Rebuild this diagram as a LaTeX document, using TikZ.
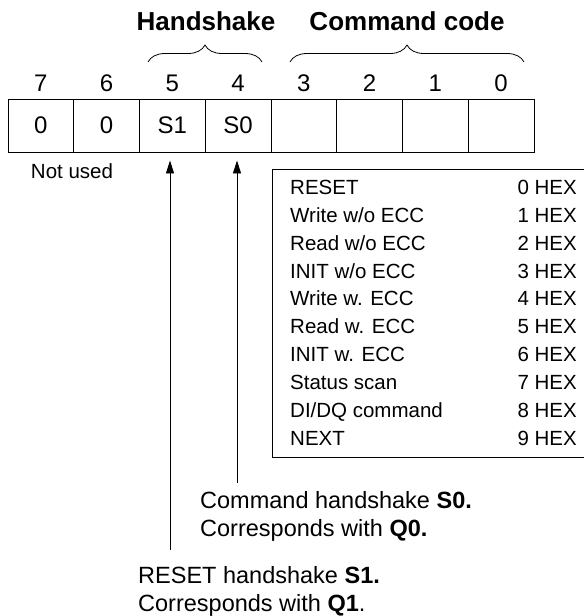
\documentclass[tikz,border=0pt]{standalone}
\usepackage{fontspec}
\setmainfont{Liberation Sans}
\usetikzlibrary{arrows.meta,decorations.pathreplacing}

\begin{document}
\begin{tikzpicture}[x=1pt, y=-1pt,
	bitcell/.style={draw, line width=0.9pt, minimum width=65.75pt, minimum height=53pt, inner sep=0pt, font=\fontsize{24}{28}\selectfont},
	bitnum/.style={inner sep=0pt, anchor=base, font=\fontsize{24}{28}\selectfont},
	heading/.style={inner sep=0pt, anchor=base, font=\bfseries\fontsize{26}{30}\selectfont},
	bitbrace/.style={decorate, decoration={brace, amplitude=17pt, aspect=0.5}, line width=0.8pt},
	pointer/.style={-{Triangle[length=13pt, width=8pt]}, line width=0.9pt},
	listbox/.style={line width=0.9pt},
	entry/.style={inner sep=0pt, anchor=base west, font=\fontsize{20.5}{28}\selectfont},
	hexval/.style={inner sep=0pt, anchor=base east, font=\fontsize{20.5}{28}\selectfont},
	caption/.style={inner sep=0pt, anchor=north west, align=left, font=\fontsize{23.5}{28}\selectfont}]

	\useasboundingbox (0,0) rectangle (584,616);

	% titoli e graffe
	\node[heading] (hs) at (206,30.3) {Handshake};
	\node[heading] (cc) at (407,30.3) {Command code};
	\draw[bitbrace] (148,62) -- (262,62);
	\draw[bitbrace] (290,62) -- (524,62);

	% numeri dei bit
	\node[bitnum] (n7) at (40.9,91.6) {7};
	\node[bitnum] (n6) at (106.6,91.6) {6};
	\node[bitnum] (n5) at (172.4,91.6) {5};
	\node[bitnum] (n4) at (238.1,91.6) {4};
	\node[bitnum] (n3) at (303.9,91.6) {3};
	\node[bitnum] (n2) at (369.6,91.6) {2};
	\node[bitnum] (n1) at (435.4,91.6) {1};
	\node[bitnum] (n0) at (501.1,91.6) {0};

	% celle
	\node[bitcell] (b7) at (40.9,125.5) {0};
	\node[bitcell] (b6) at (106.6,125.5) {0};
	\node[bitcell] (b5) at (172.4,125.5) {S1};
	\node[bitcell] (b4) at (238.1,125.5) {S0};
	\node[bitcell] (b3) at (303.9,125.5) {};
	\node[bitcell] (b2) at (369.6,125.5) {};
	\node[bitcell] (b1) at (435.4,125.5) {};
	\node[bitcell] (b0) at (501.1,125.5) {};

	\node[entry, anchor=base] (unused) at (72,178.3) {Not used};

	% tabella dei comandi
	\draw[listbox] (584,169) -- (272,169) -- (272,457) -- (584,457);
	\node[entry] (c0) at (290,194.3) {RESET};
	\node[entry] (c1) at (290,222.2) {Write w/o ECC};
	\node[entry] (c2) at (290,250.1) {Read w/o ECC};
	\node[entry] (c3) at (290,278.0) {INIT w/o ECC};
	\node[entry] (c4) at (290,305.9) {Write w. ECC};
	\node[entry] (c5) at (290,333.8) {Read w. ECC};
	\node[entry] (c6) at (290,361.7) {INIT w. ECC};
	\node[entry] (c7) at (290,389.6) {Status scan};
	\node[entry] (c8) at (290,417.5) {DI/DQ command};
	\node[entry] (c9) at (290,445.4) {NEXT};
	\node[hexval] (h0) at (577,194.3) {0 HEX};
	\node[hexval] (h1) at (577,222.2) {1 HEX};
	\node[hexval] (h2) at (577,250.1) {2 HEX};
	\node[hexval] (h3) at (577,278.0) {3 HEX};
	\node[hexval] (h4) at (577,305.9) {4 HEX};
	\node[hexval] (h5) at (577,333.8) {5 HEX};
	\node[hexval] (h6) at (577,361.7) {6 HEX};
	\node[hexval] (h7) at (577,389.6) {7 HEX};
	\node[hexval] (h8) at (577,417.5) {8 HEX};
	\node[hexval] (h9) at (577,445.4) {9 HEX};

	% frecce di handshake
	\coordinate (s0tail) at (237,483);
	\coordinate (s1tail) at (170,550);
	\draw[pointer, shorten >=8pt] (s0tail) -- (s0tail |- b4.south);
	\draw[pointer, shorten >=8pt] (s1tail) -- (s1tail |- b5.south);

	% didascalie
	\node[caption] (s0text) at (200,491) {Command handshake \textbf{S0.}\\Corresponds with \textbf{Q0.}};
	\node[caption] (s1text) at (138,566) {RESET handshake \textbf{S1.}\\Corresponds with \textbf{Q1}.};
\end{tikzpicture}
\end{document}
